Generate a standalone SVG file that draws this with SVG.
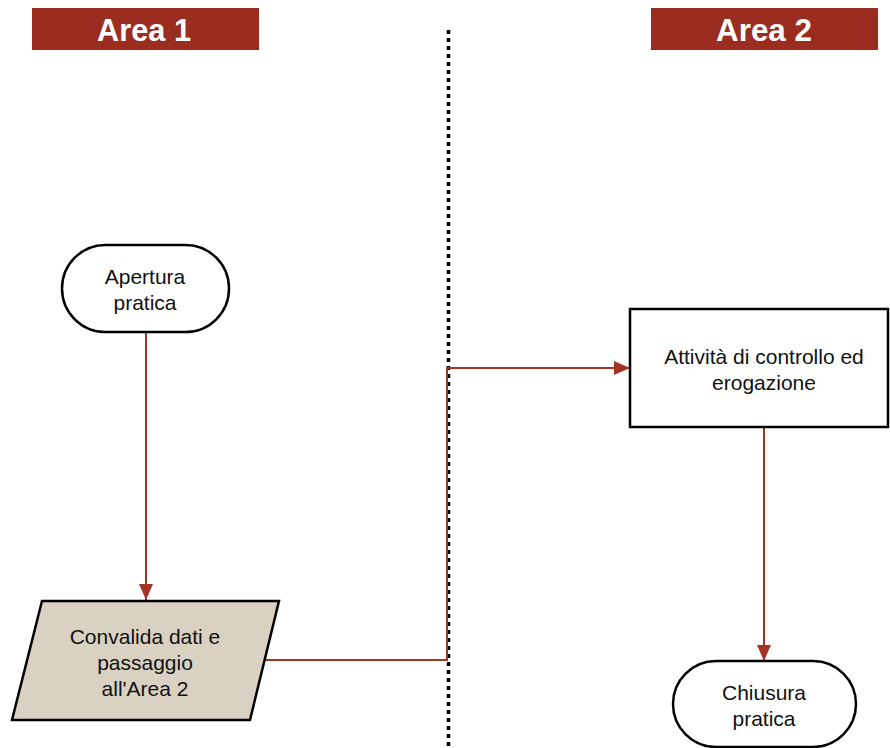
<svg xmlns="http://www.w3.org/2000/svg" width="890" height="748" viewBox="0 0 890 748">
<defs>
<style>
.hdr{fill:#9b2d20}
.hdrt{font-family:"Liberation Sans",Arial,sans-serif;font-weight:bold;font-size:31px;fill:#fff;text-anchor:middle}
.lbl{font-family:"Liberation Sans",Arial,sans-serif;font-size:21px;fill:#111;text-anchor:middle}
.node{fill:#fff;stroke:#000;stroke-width:2.5}
.conn{fill:none;stroke:#a33327;stroke-width:2}
</style>
<marker id="ah2" viewBox="0 0 16 14" refX="16" refY="7" markerWidth="16" markerHeight="14" markerUnits="userSpaceOnUse" orient="auto">
<path d="M0,0 L16,7 L0,14 z" fill="#a33327"/>
</marker>
</defs>
<rect width="890" height="748" fill="#fff"/>
<g id="header-area1"><rect class="hdr" x="32" y="8" width="227" height="42"/><text class="hdrt" x="144" y="41" textLength="94" lengthAdjust="spacingAndGlyphs">Area 1</text></g>
<g id="header-area2"><rect class="hdr" x="651" y="8" width="227" height="42"/><text class="hdrt" x="764" y="41" textLength="96" lengthAdjust="spacingAndGlyphs">Area 2</text></g>
<line id="divider" x1="448.5" y1="30" x2="448.5" y2="748" stroke="#000" stroke-width="3.5" stroke-dasharray="4,4"/>
<g id="connectors">
<path class="conn" d="M146,333 V600" marker-end="url(#ah2)"/>
<path class="conn" d="M265,660 H447 V368 H630" marker-end="url(#ah2)"/>
<path class="conn" d="M764,428 V661" marker-end="url(#ah2)"/>
</g>
<g id="apertura">
<rect class="node" x="62" y="245" width="167" height="87" rx="43.5"/>
<text class="lbl" x="145" y="284">Apertura</text>
<text class="lbl" x="145" y="310">pratica</text>
</g>
<g id="convalida">
<polygon points="42,601 279,601 250,720 12,720" fill="#d9d2c3" stroke="#000" stroke-width="2.5"/>
<text class="lbl" x="145" y="644">Convalida dati e</text>
<text class="lbl" x="145" y="670">passaggio</text>
<text class="lbl" x="145" y="696">all'Area 2</text>
</g>
<g id="attivita">
<rect class="node" x="630" y="309" width="258" height="118"/>
<text class="lbl" x="764" y="364">Attività di controllo ed</text>
<text class="lbl" x="764" y="390">erogazione</text>
</g>
<g id="chiusura">
<rect class="node" x="673" y="661" width="183" height="86" rx="43"/>
<text class="lbl" x="764" y="700">Chiusura</text>
<text class="lbl" x="764" y="726">pratica</text>
</g>
</svg>
